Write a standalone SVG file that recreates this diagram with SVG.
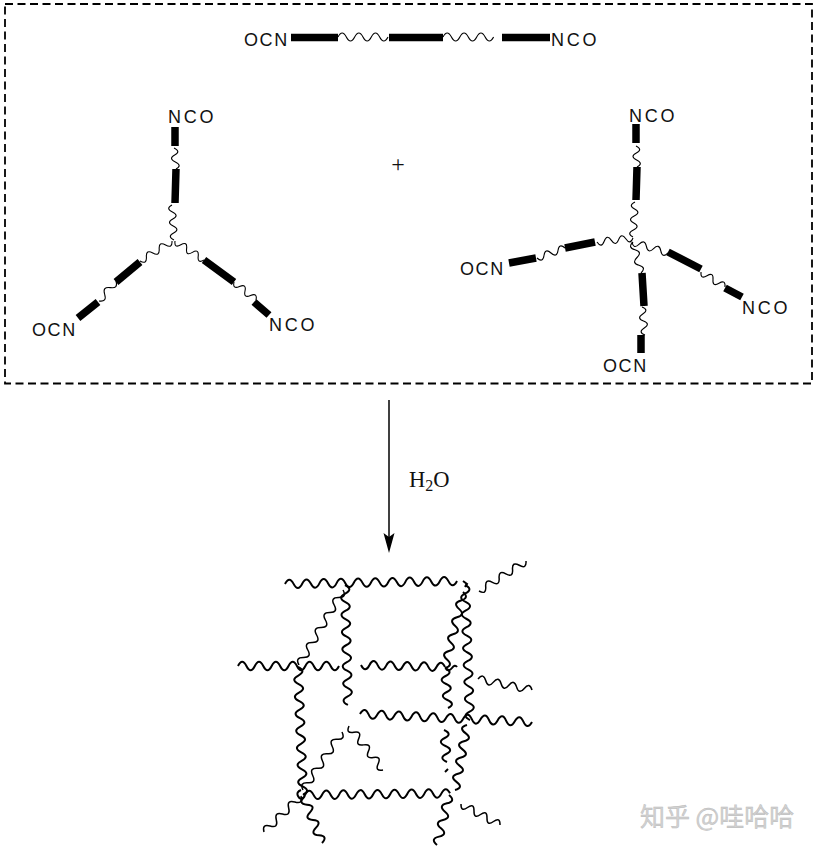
<svg xmlns="http://www.w3.org/2000/svg" width="815" height="851" viewBox="0 0 815 851">
<style>
.bar{stroke:#000;stroke-width:7.500;fill:none}
.w{stroke:#000;stroke-width:1.100;fill:none}
.n{stroke:#000;stroke-width:2;fill:none}
.m{stroke:#000;stroke-width:1.500;fill:none}
.l{font-family:"Liberation Sans",Arial,sans-serif;font-size:18px;fill:#111;letter-spacing:1.600px}
.k{letter-spacing:2.700px}
.s{font-family:"Liberation Serif","Times New Roman",serif;fill:#111}
</style>
<rect id="frame" x="5" y="4" width="807" height="379.500" fill="none" stroke="#000" stroke-width="1.800" stroke-dasharray="8 4.500"/>
<g id="linear-chain">
<path class="bar" d="M291 37.500H338M389 37.500H443M502 37.500H550"/>
<path class="w" d="M338 37q4.170 -8 8.330 0t8.330 0 8.330 0 8.330 0 8.330 0 8.350 0"/>
<path class="w" d="M443 37q4.200 -8 8.430 0t8.430 0 8.430 0 8.430 0 8.430 0 8.420 0"/>
<text class="l" x="244" y="45.500">OCN</text><text class="l k" x="551" y="45.500">NCO</text>
</g>
<g id="three-arm-star">
<path class="bar" d="M175 127V146M176 169L175 203M78 318L98 302M116 282L140 262M204 260L234 282M254 302L269 315"/>
<path class="w" d="M174 148q7.300 3.500 .67 7t.67 7 .66 7"/>
<path class="w" d="M172 205q-6.800 3.500 .4 7t.4 7 .4 7 .4 7 .4 7"/>
<path class="w" d="M99 301q8.150 1.220 5.670 -6.670t5.670 -6.670 5.660 -6.660"/>
<path class="w" d="M140 261q6.900 3.950 6.400 -4t6.400 -4 6.400 -4 6.400 -4 6.400 -4"/>
<path class="w" d="M175 241q-.95 7.780 5.800 3.800t5.800 3.800 5.800 3.800 5.800 3.800 5.800 3.800"/>
<path class="w" d="M234 282q-1.660 7.640 5.500 4.500t5.500 4.500 5.500 4.500 5.500 4.500"/>
<text class="l k" x="168" y="122.500">NCO</text><text class="l" x="32" y="335.500">OCN</text><text class="l k" x="269" y="330.500">NCO</text>
</g>
<g id="four-arm-star">
<path class="bar" d="M636 124V143M637 167L636 200M509 263L536 258M565 248L595 242M668 252L701 269M725 288L742 297M642 273L644 306M641 335V353"/>
<path class="w" d="M636 146q7.170 3.500 .33 7t.33 7 .34 7"/>
<path class="w" d="M635 202q-7.200 3.500 -.4 7t-.4 7 -.4 7 -.4 7 -.4 7"/>
<path class="w" d="M537 258q5.880 5.330 7 -2.500t7 -2.500 7 -2.500 7 -2.500"/>
<path class="w" d="M597 242q4.370 6.560 7.200 -.8t7.200 -.8 7.200 -.8 7.200 -.8 7.200 -.8"/>
<path class="w" d="M632 242q1.560 7.790 7.200 2.200t7.200 2.200 7.200 2.200 7.200 2.200 7.200 2.200"/>
<path class="w" d="M701 272q-.71 7.820 6 3.750t6 3.750 6 3.750 6 3.750"/>
<path class="w" d="M633 242q-5.780 5.630 2 7.750t2 7.750 2 7.750 2 7.750"/>
<path class="w" d="M642 307q7.380 2.760 .75 7t.75 7 .75 7 .75 7"/>
<text class="l k" x="629" y="121.500">NCO</text><text class="l" x="460" y="274.500">OCN</text><text class="l k" x="742" y="313.500">NCO</text><text class="l" x="603" y="371.500">OCN</text>
</g>
<text id="plus" class="s" x="398" y="172" font-size="24" text-anchor="middle">+</text>
<g id="reaction-arrow">
<path d="M389 400V540" stroke="#000" stroke-width="1.500" fill="none"/>
<path d="M389 553L383.500 533L389 537L394.500 533Z" fill="#000"/>
<text class="s" x="409" y="487" font-size="22.500">H<tspan font-size="16" dy="4">2</tspan><tspan dy="-4">O</tspan></text>
</g>
<g id="network">
<path class="n" d="M285 584q4.300 -8.500 8.600 -.15t8.600 -.15 8.600 -.15 8.600 -.15 8.600 -.15 8.600 -.15 8.600 -.15 8.600 -.15 8.600 -.15 8.600 -.15 8.600 -.15 8.600 -.15 8.600 -.15 8.600 -.15 8.600 -.15 8.600 -.15 8.600 -.15 8.600 -.15 8.600 -.15 8.600 -.15"/>
<path class="n" d="M345 585q8.600 4.300 .21 8.570t.21 8.570 .21 8.570 .21 8.570 .21 8.570 .21 8.570 .21 8.570 .21 8.570 .21 8.570 .21 8.570 .21 8.570 .21 8.570 .21 8.570 .21 8.570"/>
<path class="m" d="M343 590q4.250 7.580 -4.400 7.500t-4.400 7.500 -4.400 7.500 -4.400 7.500 -4.400 7.500 -4.400 7.500 -4.400 7.500 -4.400 7.500 -4.400 7.500 -4.400 7.500"/>
<path class="n" d="M238 666q4.200 -8.500 8.420 0t8.420 0 8.420 0 8.420 0 8.420 0 8.420 0 8.420 0 8.420 0 8.420 0 8.420 0 8.420 0 8.380 0"/>
<path class="n" d="M361 665q4.200 8.500 8.400 .2t8.400 .2 8.400 .2 8.400 .2 8.400 .2 8.400 .2 8.400 .2 8.400 .2 8.400 .2 8.400 .2"/>
<path class="n" d="M298 667q8.700 4.300 .33 8.530t.33 8.530 .33 8.530 .33 8.530 .33 8.530 .33 8.530 .33 8.530 .33 8.530 .33 8.530 .33 8.530 .33 8.530 .33 8.530 .33 8.530 .33 8.530 .33 8.530"/>
<path class="n" d="M465 585q8.700 4.200 .31 8.440t.31 8.440 .31 8.440 .31 8.440 .31 8.440 .31 8.440 .31 8.440 .31 8.440 .31 8.440 .31 8.440 .31 8.440 .31 8.440 .31 8.440 .31 8.440 .31 8.440 .31 8.440"/>
<path class="n" d="M463 592q6.760 6.060 -2 8.440t-2 8.440 -2 8.440 -2 8.440 -2 8.440 -2 8.440 -2 8.440 -2 8.440 -2 8.440"/>
<path class="n" d="M445 668q8.800 4 .6 8t.6 8 .6 8 .6 8 .6 8"/>
<path class="n" d="M446 669q3 3 6 -1t5 -1M463 581l4 3 -2 3M301 790q-5 2 -3 6t5 2 1 -5"/>
<path class="m" d="M479 591q7.410 4.160 6.710 -4.290t6.710 -4.290 6.710 -4.290 6.710 -4.290 6.710 -4.290 6.710 -4.290 6.740 -4.260"/>
<path class="m" d="M478 679q5.360 -6.560 7.710 1.570t7.710 1.570 7.710 1.570 7.710 1.570 7.710 1.570 7.710 1.570 7.740 1.580"/>
<path class="n" d="M360 714q4.700 -8.300 8.600 .4t8.600 .4 8.600 .4 8.600 .4 8.600 .4 8.600 .4 8.600 .4 8.600 .4 8.600 .4 8.600 .4 8.600 .4 8.600 .4 8.600 .4 8.600 .4 8.600 .4 8.600 .4 8.600 .4 8.600 .4 8.600 .4 8.600 .4"/>
<path class="n" d="M467 725q-9.080 2.530 -1.500 8.130t-1.500 8.130 -1.500 8.130 -1.500 8.130 -1.500 8.130 -1.500 8.130 -1.500 8.130 -1.500 8.130"/>
<path class="n" d="M444 730q8.900 4 .75 8t.75 8 .75 8 .75 8"/>
<path class="n" d="M445 772L448 769"/>
<path class="n" d="M305 795q4.270 -8.500 8.530 -.1t8.530 -.1 8.530 -.1 8.530 -.1 8.530 -.1 8.530 -.1 8.530 -.1 8.530 -.1 8.530 -.1 8.530 -.1 8.530 -.1 8.530 -.1 8.530 -.1 8.530 -.1 8.530 -.1 8.530 -.1 8.530 -.1"/>
<path class="m" d="M342 732q3.790 7.830 -4.880 7.250t-4.880 7.250 -4.880 7.250 -4.880 7.250 -4.880 7.250 -4.880 7.250 -4.880 7.250 -4.880 7.250"/>
<path class="m" d="M349 726q-3.500 7.720 4.860 6.290t4.860 6.290 4.860 6.290 4.860 6.290 4.860 6.290 4.860 6.290 4.860 6.290"/>
<path class="m" d="M301 796q2.170 8.400 -6.170 6t-6.170 6 -6.170 6 -6.170 6 -6.170 6 -6.170 6"/>
<path class="n" d="M304 797q-6.400 6.890 3 7.670t3 7.670 3 7.670 3 7.670 3 7.670 3 7.670"/>
<path class="n" d="M449 795q7.250 6.130 -2 8.330t-2 8.330 -2 8.330 -2 8.330 -2 8.330 -2 8.330"/>
<path class="m" d="M461 804q-.28 8.350 6.500 3.500t6.500 3.500 6.500 3.500 6.500 3.500 6.500 3.500 6.500 3.500"/>
</g>
<text id="watermark" x="640" y="826" font-family="'Noto Sans CJK SC','Liberation Sans',sans-serif" font-size="25" fill="#d2d2d2" stroke="#b8b8b8" stroke-width=".4">知乎 @哇哈哈</text>
</svg>
